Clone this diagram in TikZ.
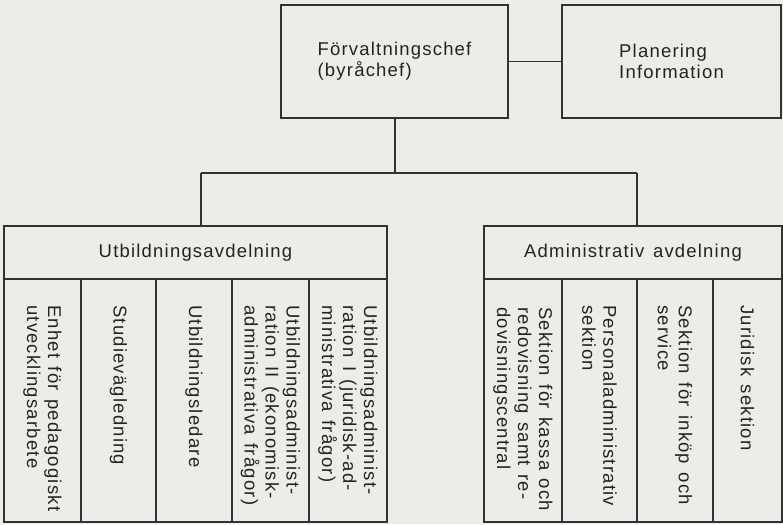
\documentclass[tikz,border=0pt]{standalone}
\usepackage{fontspec}
\newfontfamily\orgfont[LetterSpace=6.5,WordSpace=1.35]{Liberation Sans}
\definecolor{paper}{RGB}{236,236,232}
\definecolor{ink}{RGB}{50,50,50}
\definecolor{textink}{RGB}{35,35,35}
\begin{document}
\begin{tikzpicture}[x=1pt,y=-1pt,
  box/.style={draw=ink, line width=1.5pt, inner sep=0pt, outer sep=0pt},
  lbl/.style={font=\orgfont\fontsize{18.5}{21}\selectfont, text=textink, align=left, inner sep=0pt},
  unit/.style={box, minimum height=243pt, anchor=north west},
  vlbl/.style={lbl, rotate=-90, anchor=west},
  link/.style={draw=ink, line width=1.5pt}]
% paper
\fill[paper] (0,0) rectangle (783,524);
\useasboundingbox (0,0) rectangle (783,524);

% top level
\node[box, lbl, minimum width=227pt, minimum height=113pt, anchor=north west] (chef) at (281,5)
  {Förvaltningschef\\(byråchef)};
\node[box, lbl, minimum width=219pt, minimum height=113pt, anchor=north west] (plan) at (562,5)
  {Planering\\Information};
\draw[link] (chef.east) -- (plan.west);

% departments
\node[box, lbl, minimum width=383pt, minimum height=53pt, anchor=north west] (utb) at (4,226)
  {Utbildningsavdelning};
\node[box, lbl, minimum width=298pt, minimum height=53pt, anchor=north west] (adm) at (484,226)
  {Administrativ avdelning};

% branch lines
\coordinate (bus) at (395,173);
\coordinate (busL) at (201,173);
\coordinate (busR) at (637,173);
\draw[link] (chef.south -| bus) -- (bus);
\draw[link] (busL) -- (busR);
\draw[link] (busL) -- (busL |- utb.north);
\draw[link] (busR) -- (busR |- adm.north);

% units of Utbildningsavdelning
\node[unit, minimum width=77pt] (u1) at (4,279) {};
\node[unit, minimum width=75pt] (u2) at (81,279) {};
\node[unit, minimum width=76pt] (u3) at (156,279) {};
\node[unit, minimum width=77pt] (u4) at (232,279) {};
\node[unit, minimum width=78pt] (u5) at (309,279) {};
\node[vlbl] (t1) at ([yshift=-26pt]u1.north) {Enhet för pedagogiskt\\utvecklingsarbete};
\node[vlbl] (t2) at ([yshift=-26pt]u2.north) {Studievägledning};
\node[vlbl] (t3) at ([yshift=-26pt]u3.north) {Utbildningsledare};
\node[vlbl] (t4) at ([yshift=-26pt]u4.north) {Utbildningsadminist-\\ration II (ekonomisk-\\administrativa frågor)};
\node[vlbl] (t5) at ([yshift=-26pt]u5.north) {Utbildningsadminist-\\ration I (juridisk-ad-\\ministrativa frågor)};

% units of Administrativ avdelning
\node[unit, minimum width=78pt] (a1) at (484,279) {};
\node[unit, minimum width=75pt] (a2) at (562,279) {};
\node[unit, minimum width=76pt] (a3) at (637,279) {};
\node[unit, minimum width=69pt] (a4) at (713,279) {};
\node[vlbl] (s1) at ([yshift=-28pt]a1.north) {Sektion för kassa och\\redovisning samt re-\\dovisningscentral};
\node[vlbl] (s2) at ([yshift=-26pt]a2.north) {Personaladministrativ\\sektion};
\node[vlbl] (s3) at ([yshift=-26pt]a3.north) {Sektion för inköp och\\service};
\node[vlbl] (s4) at ([yshift=-26pt]a4.north) {Juridisk sektion};
\end{tikzpicture}
\end{document}
